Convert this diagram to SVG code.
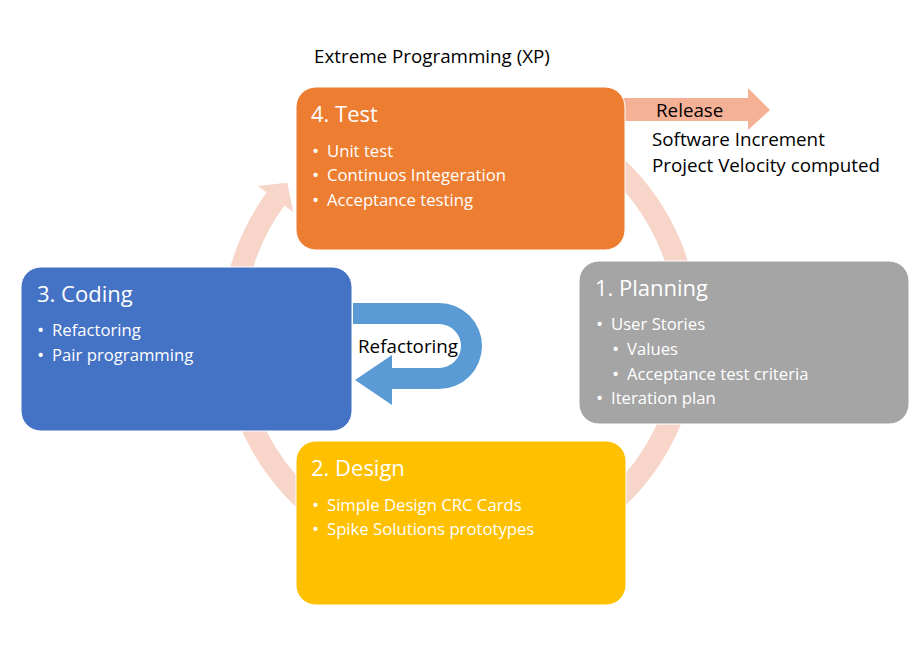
<svg xmlns="http://www.w3.org/2000/svg" width="922" height="651" viewBox="0 0 922 651">
<style>
text{font-family:"Open Sans","Noto Sans","Liberation Sans",sans-serif}
.box{stroke:#ffffff;stroke-width:1}
.h{fill:#ffffff;font-size:22px}
.b{fill:#ffffff;font-size:16.7px}
.d{fill:#ffffff;font-size:19px}
.k{fill:#000000;font-size:18.8px}
</style>
<rect width="922" height="651" fill="#ffffff"/>
<g id="connectors">
  <g id="cycle">
    <path d="M538,118.7 A228,228 0 1 1 275.5,199" fill="none" stroke="#F7D5C8" stroke-width="22"/>
    <polygon points="257.7,186.1 293.3,211.9 287.3,182.8" fill="#F7D5C8"/>
  </g>
  <g id="release">
    <polygon points="610,98 748,98 748,88 770,110 748,130 748,121 610,121" fill="#F5B196"/>
  </g>
  <g id="refactor">
    <path d="M353,303 L439,303 A43,43 0 0 1 439,389 L392,389 L392,405 L355,380 L392,355 L392,368 L439,368 A22,22 0 0 0 439,324 L353,324 Z" fill="#5B9BD5"/>
  </g>
</g>
<g id="test">
  <rect class="box" x="296" y="87" width="329" height="163" rx="20" fill="#ED7D31"/>
  <text class="h" x="311" y="122">4. Test</text>
  <text class="d" x="312" y="158">•</text><text class="b" x="327" y="157">Unit test</text>
  <text class="d" x="312" y="182">•</text><text class="b" x="327" y="181">Continuos Integeration</text>
  <text class="d" x="312" y="207">•</text><text class="b" x="327" y="206">Acceptance testing</text>
</g>
<g id="planning">
  <rect class="box" x="579" y="261" width="330" height="163" rx="20" fill="#A5A5A5"/>
  <text class="h" x="595" y="296">1. Planning</text>
  <text class="d" x="596" y="331">•</text><text class="b" x="611" y="330">User Stories</text>
  <text class="d" x="612" y="356">•</text><text class="b" x="627" y="355">Values</text>
  <text class="d" x="612" y="381">•</text><text class="b" x="627" y="380">Acceptance test criteria</text>
  <text class="d" x="596" y="405">•</text><text class="b" x="611" y="404">Iteration plan</text>
</g>
<g id="coding">
  <rect class="box" x="21" y="267" width="331" height="164" rx="20" fill="#4472C4"/>
  <text class="h" x="37" y="302">3. Coding</text>
  <text class="d" x="37" y="337">•</text><text class="b" x="52" y="336">Refactoring</text>
  <text class="d" x="37" y="362">•</text><text class="b" x="52" y="361">Pair programming</text>
</g>
<g id="design">
  <rect class="box" x="296" y="441" width="330" height="164" rx="20" fill="#FFC000"/>
  <text class="h" x="311" y="476">2. Design</text>
  <text class="d" x="312" y="512">•</text><text class="b" x="327" y="511">Simple Design CRC Cards</text>
  <text class="d" x="312" y="536">•</text><text class="b" x="327" y="535">Spike Solutions prototypes</text>
</g>
<g id="labels">
  <text class="k" x="314" y="63">Extreme Programming (XP)</text>
  <text class="k" x="656" y="117">Release</text>
  <text class="k" x="652" y="146">Software Increment</text>
  <text class="k" x="652" y="172">Project Velocity computed</text>
  <text class="k" x="358" y="353">Refactoring</text>
</g>
</svg>
